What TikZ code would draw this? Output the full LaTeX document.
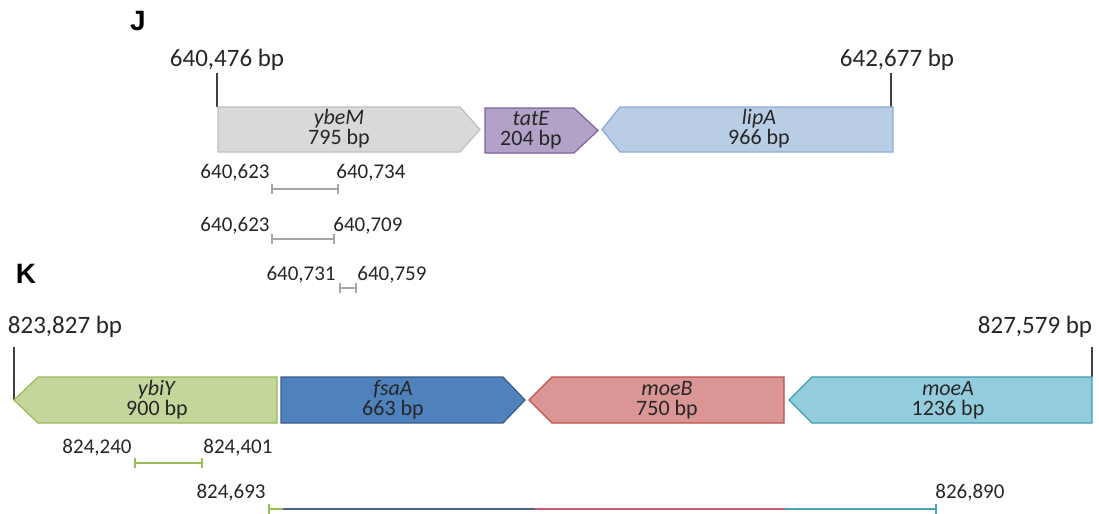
\documentclass[tikz,border=0pt]{standalone}
\usepackage{fontspec}
\setmainfont{Carlito}
\newfontfamily\panelfont{Liberation Sans}
\usetikzlibrary{arrows.meta}

\definecolor{txt}{HTML}{262626}
\definecolor{ybeMfill}{HTML}{D9D9D9}
\definecolor{ybeMline}{HTML}{BFBFBF}
\definecolor{tatEfill}{HTML}{B3A2C7}
\definecolor{tatEline}{HTML}{7B64A0}
\definecolor{lipAfill}{HTML}{B9CDE5}
\definecolor{lipAline}{HTML}{8EAADB}
\definecolor{ybiYfill}{HTML}{C3D69B}
\definecolor{ybiYline}{HTML}{9BBB59}
\definecolor{fsaAfill}{HTML}{4F81BD}
\definecolor{fsaAline}{HTML}{385D8A}
\definecolor{moeBfill}{HTML}{D99694}
\definecolor{moeBline}{HTML}{C0504D}
\definecolor{moeAfill}{HTML}{93CDDD}
\definecolor{moeAline}{HTML}{3E9BB0}
\definecolor{rangegray}{HTML}{A6A6A6}
\definecolor{rangegreen}{HTML}{9BBB59}
\definecolor{rangeblue}{HTML}{4A6487}
\definecolor{rangered}{HTML}{C85A72}
\definecolor{rangeteal}{HTML}{4BA3B8}

\tikzset{
  panel/.style={font=\panelfont\bfseries\fontsize{14}{16}\selectfont, text=black},
  bplabel/.style={font=\fontsize{12.5}{14}\selectfont, text=txt, inner sep=0pt},
  lbl/.style={font=\fontsize{11}{10}\selectfont, align=center, text=txt, inner sep=0pt},
  coordlbl/.style={font=\fontsize{10.5}{12}\selectfont, text=txt, inner sep=0pt},
  tickline/.style={draw=black!75, line width=0.6pt},
  genebox/.style={line width=0.6pt, line join=miter},
  rangebar/.style={line width=1.25pt},
  barends/.style={{Bar[width=5pt,line width=1pt]}-{Bar[width=5pt,line width=1pt]}}
}

\newcommand{\GeneRight}[6]{%
  \draw[genebox, fill=#6fill, draw=#6line] (#1,#4) -- (#2,#4) -- (#3,{(#4+#5)/2}) -- (#2,#5) -- (#1,#5) -- cycle;}
\newcommand{\GeneLeft}[6]{%
  \draw[genebox, fill=#6fill, draw=#6line] (#3,#4) -- (#2,#4) -- (#1,{(#4+#5)/2}) -- (#2,#5) -- (#3,#5) -- cycle;}

\begin{document}
\begin{tikzpicture}[x=0.5pt,y=-0.5pt]
  \useasboundingbox (0,0) rectangle (1099,514);

  \node[panel] (J) at (138,21) {J};
  \node[bplabel, anchor=base] (jstart) at (227,66) {640,476 bp};
  \node[bplabel, anchor=base] (jend) at (897,66) {642,677 bp};
  \coordinate (jsa) at (217,73);
  \coordinate (jsb) at (217,107);
  \coordinate (jea) at (891,73);
  \coordinate (jeb) at (891,107);
  \draw[tickline] (jsa) -- (jsb);
  \draw[tickline] (jea) -- (jeb);

  \GeneRight{218}{460}{480}{107}{152}{ybeM}
  \GeneRight{485}{574}{598}{108}{153}{tatE}
  \GeneLeft{602}{620}{893}{107}{152}{lipA}
  \node[lbl] (ybeM) at (339,129) {\textit{ybeM}\\795 bp};
  \node[lbl] (tatE) at (531,130) {\textit{tatE}\\204 bp};
  \node[lbl] (lipA) at (759,129) {\textit{lipA}\\966 bp};

  \node[coordlbl, anchor=base east] (ja1) at (270,178) {640,623};
  \node[coordlbl, anchor=base west] (jb1) at (336,178) {640,734};
  \coordinate (jr1a) at (271,189);
  \coordinate (jr1b) at (339,189);
  \draw[rangebar, barends, rangegray] (jr1a) -- (jr1b);

  \node[coordlbl, anchor=base east] (ja2) at (270,231) {640,623};
  \node[coordlbl, anchor=base west] (jb2) at (333,231) {640,709};
  \coordinate (jr2a) at (271,239);
  \coordinate (jr2b) at (335,239);
  \draw[rangebar, barends, rangegray] (jr2a) -- (jr2b);

  \node[coordlbl, anchor=base east] (ja3) at (336,280) {640,731};
  \node[coordlbl, anchor=base west] (jb3) at (357,280) {640,759};
  \coordinate (jr3a) at (339,288);
  \coordinate (jr3b) at (357,288);
  \draw[rangebar, barends, rangegray] (jr3a) -- (jr3b);

  \node[panel] (K) at (26,274) {K};
  \node[bplabel, anchor=base] (kstart) at (65,333) {823,827 bp};
  \node[bplabel, anchor=base] (kend) at (1035,333) {827,579 bp};
  \coordinate (ksa) at (14,347);
  \coordinate (ksb) at (14,400);
  \coordinate (kea) at (1092,347);
  \coordinate (keb) at (1092,377);
  \draw[tickline] (ksa) -- (ksb);
  \draw[tickline] (kea) -- (keb);

  \GeneLeft{14}{38}{277}{377}{423}{ybiY}
  \GeneRight{281}{503}{525}{377}{423}{fsaA}
  \GeneLeft{529}{552}{784}{377}{423}{moeB}
  \GeneLeft{789}{812}{1092}{377}{423}{moeA}
  \node[lbl] (ybiY) at (157,400) {\textit{ybiY}\\900 bp};
  \node[lbl] (fsaA) at (393,400) {\textit{fsaA}\\663 bp};
  \node[lbl] (moeB) at (667,400) {\textit{moeB}\\750 bp};
  \node[lbl] (moeA) at (948,400) {\textit{moeA}\\1236 bp};

  \node[coordlbl, anchor=base east] (ka1) at (132,453) {824,240};
  \node[coordlbl, anchor=base west] (kb1) at (203,453) {824,401};
  \coordinate (kr1a) at (134,463);
  \coordinate (kr1b) at (203,463);
  \draw[rangebar, barends, rangegreen] (kr1a) -- (kr1b);

  \node[coordlbl, anchor=base east] (ka2) at (266,498) {824,693};
  \node[coordlbl, anchor=base west] (kb2) at (935,498) {826,890};
  \coordinate (kr2a) at (268,509);
  \coordinate (kr2b) at (283,509);
  \coordinate (kr2c) at (535,509);
  \coordinate (kr2d) at (785,509);
  \coordinate (kr2e) at (937,509);
  \draw[rangebar, rangegreen, {Bar[width=5pt,line width=1pt]}-] (kr2a) -- (kr2b);
  \draw[rangebar, rangeblue] (kr2b) -- (kr2c);
  \draw[rangebar, rangered] (kr2c) -- (kr2d);
  \draw[rangebar, rangeteal, -{Bar[width=5pt,line width=1pt]}] (kr2d) -- (kr2e);
\end{tikzpicture}
\end{document}
